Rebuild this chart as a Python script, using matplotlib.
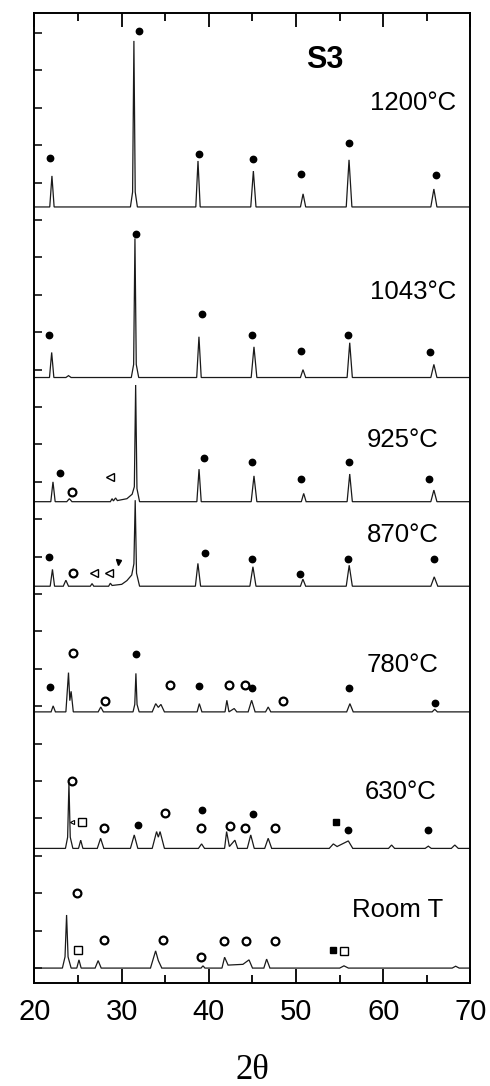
import matplotlib
matplotlib.use("Agg")
import matplotlib.pyplot as plt
from matplotlib.ticker import MultipleLocator


# === CONFIGURATION ===
FIGURE_SIZE = (4.9, 10.86)
DPI = 100
TRACE_COLOR = '#1a1a1a'
TRACE_WIDTH = 0.9
LABEL_FONT = 'Liberation Sans'
LABEL_FONTSIZE = 18.5
TICK_FONTSIZE = 21

# === DATA (2theta vertices and relative intensity) ===
# each pattern is drawn at its own baseline offset
temps = ['1200°C', '1043°C', '925°C', '870°C', '780°C', '630°C', 'Room T']
offsets = [20.35, 15.79, 12.47, 10.21, 6.85, 3.2, 0.0]

t1200 = [20, 21.75, 22.0, 22.25, 31.0, 31.25, 31.4, 31.55, 31.8, 38.5, 38.75,
         39.0, 44.8, 45.1, 45.4, 50.5, 50.8, 51.1, 55.75, 56.07, 56.4, 65.45,
         65.8, 66.15, 70]
i1200 = [0, 0, 0.83, 0, 0, 0.4, 4.44, 0.4, 0, 0, 1.23, 0, 0, 0.96, 0, 0, 0.35,
         0, 0, 1.26, 0, 0, 0.48, 0, 0]

t1043 = [20, 21.72, 21.97, 22.22, 23.6, 23.9, 24.2, 31.1, 31.37, 31.52, 31.67,
         31.95, 38.6, 38.86, 39.12, 44.85, 45.17, 45.5, 50.5, 50.79, 51.1,
         55.85, 56.15, 56.45, 65.45, 65.8, 66.15, 70]
i1043 = [0, 0, 0.67, 0, 0, 0.05, 0, 0, 0.35, 3.72, 0.35, 0, 0, 1.09, 0, 0,
         0.82, 0, 0, 0.21, 0, 0, 0.93, 0, 0, 0.35, 0, 0]

t925 = [20, 21.87, 22.12, 22.37, 23.7, 24.0, 24.3, 28.7, 28.9, 29.05, 29.3,
        29.5, 30.6, 31.2, 31.45, 31.6, 31.75, 32.05, 38.62, 38.87, 39.12,
        44.85, 45.17, 45.5, 50.6, 50.87, 51.15, 55.85, 56.15, 56.45, 65.45,
        65.8, 66.15, 70]
i925 = [0, 0, 0.53, 0, 0, 0.08, 0, 0, 0.08, 0.02, 0.1, 0.03, 0.08, 0.2, 0.4,
        3.12, 0.35, 0, 0, 0.87, 0, 0, 0.69, 0, 0, 0.22, 0, 0, 0.74, 0, 0,
        0.31, 0, 0]

t870 = [20, 21.8, 22.06, 22.3, 23.3, 23.6, 23.9, 26.4, 26.6, 26.8, 28.5, 28.7,
        28.9, 30.0, 30.6, 31.15, 31.4, 31.55, 31.7, 32.05, 38.45, 38.74, 39.05,
        44.7, 45.05, 45.4, 50.5, 50.78, 51.1, 55.75, 56.09, 56.45, 65.45,
        65.84, 66.25, 70]
i870 = [0, 0, 0.45, 0, 0, 0.16, 0, 0, 0.07, 0, 0, 0.08, 0.02, 0.05, 0.15, 0.3,
        0.6, 2.3, 0.35, 0, 0, 0.61, 0, 0, 0.52, 0, 0, 0.19, 0, 0, 0.56, 0, 0,
        0.25, 0, 0]

t780 = [20, 21.9, 22.14, 22.4, 23.6, 23.9, 24.05, 24.2, 24.45, 27.3, 27.6,
        27.9, 31.3, 31.5, 31.63, 31.76, 32.0, 33.5, 33.9, 34.2, 34.5, 34.9,
        38.65, 38.9, 39.2, 41.85, 42.06, 42.3, 42.9, 43.2, 44.5, 44.9, 45.3,
        46.5, 46.8, 47.1, 55.8, 56.17, 56.55, 65.6, 65.9, 66.2, 70]
i780 = [0, 0, 0.16, 0, 0, 1.05, 0.3, 0.55, 0, 0, 0.13, 0, 0, 0.2, 1.03, 0.2,
        0, 0, 0.22, 0.12, 0.2, 0, 0, 0.22, 0, 0, 0.31, 0, 0.09, 0, 0, 0.31, 0,
        0, 0.13, 0, 0, 0.22, 0, 0, 0.07, 0, 0]

t630 = [20, 23.55, 23.8, 23.95, 24.1, 24.4, 25.05, 25.3, 25.55, 27.2, 27.58,
        27.95, 31.0, 31.44, 31.85, 33.5, 34.0, 34.2, 34.4, 34.9, 38.8, 39.16,
        39.5, 41.8, 42.03, 42.35, 42.98, 43.3, 44.4, 44.8, 45.2, 46.4, 46.8,
        47.2, 53.8, 54.27, 54.7, 55.99, 56.5, 60.6, 60.95, 61.3, 64.8, 65.16,
        65.5, 67.8, 68.2, 68.6, 70]
i630 = [0, 0, 0.3, 1.74, 0.3, 0, 0, 0.22, 0, 0, 0.27, 0, 0, 0.36, 0, 0, 0.45,
        0.3, 0.45, 0, 0, 0.12, 0, 0, 0.45, 0.05, 0.22, 0, 0, 0.36, 0, 0, 0.27,
        0, 0, 0.12, 0.05, 0.2, 0, 0, 0.09, 0, 0, 0.06, 0, 0, 0.09, 0, 0]

tRT = [20, 23.2, 23.5, 23.68, 23.85, 24.2, 24.85, 25.1, 25.35, 26.95, 27.3,
       27.65, 33.3, 33.89, 34.2, 34.6, 39.1, 39.32, 39.55, 41.5, 41.8, 42.2,
       43.9, 44.6, 45.0, 46.3, 46.62, 47.0, 55.0, 55.49, 56.0, 67.9, 68.3,
       68.7, 70]
iRT = [0, 0, 0.3, 1.42, 0.3, 0, 0, 0.22, 0, 0, 0.2, 0, 0, 0.46, 0.2, 0, 0,
       0.06, 0, 0, 0.29, 0.08, 0.1, 0.22, 0, 0, 0.24, 0, 0, 0.06, 0, 0, 0.05,
       0, 0]

patterns = [(t1200, i1200), (t1043, i1043), (t925, i925), (t870, i870),
            (t780, i780), (t630, i630), (tRT, iRT)]

# label positions (2theta, stacked y)
label_x = [58.45, 58.45, 58.1, 58.1, 58.1, 57.9, 56.4]
label_y = [23.13, 18.07, 14.12, 11.58, 8.1, 4.71, 1.55]

# phase markers (2theta, stacked y)
dot_x = [21.75, 32.0, 38.85, 45.07, 50.53, 56.07, 66.0,
         31.66, 21.7, 39.24, 45.0, 50.53, 56.0, 65.32,
         22.89, 39.44, 44.98, 50.53, 56.07, 65.24,
         21.69, 39.5, 44.93, 50.47, 56.0, 65.87,
         21.77, 31.63, 38.89, 44.93, 56.02, 65.92,
         31.82, 39.24, 45.09, 55.99, 65.16]
dot_y = [21.67, 25.05, 21.76, 21.64, 21.22, 22.07, 21.2,
         19.62, 16.94, 17.48, 16.93, 16.5, 16.93, 16.48,
         13.23, 13.64, 13.52, 13.08, 13.52, 13.07,
         10.98, 11.09, 10.95, 10.53, 10.95, 10.94,
         7.52, 8.4, 7.54, 7.5, 7.5, 7.08,
         3.82, 4.24, 4.12, 3.69, 3.69]

ring_x = [24.3, 24.36,
          24.37, 28.07, 35.56, 42.33, 44.16, 48.52,
          24.33, 28.0, 34.96, 39.08, 42.41, 44.13, 47.57,
          24.9, 27.97, 34.74, 39.05, 41.73, 44.21, 47.58]
ring_y = [12.74, 10.57,
          8.43, 7.14, 7.57, 7.57, 7.57, 7.14,
          5.01, 3.74, 4.15, 3.74, 3.8, 3.74, 3.74,
          2.02, 0.75, 0.75, 0.3, 0.73, 0.73, 0.73]

osq_x = [25.4, 25.02, 55.49]
osq_y = [3.9, 0.48, 0.46]
fsq_x = [54.53, 54.27]
fsq_y = [3.9, 0.48]

tri_x = [28.62, 26.88, 28.6]
tri_y = [13.12, 10.57, 10.57]
small_tri_x = [24.26]
small_tri_y = [3.91]
dtri_x = [29.52]
dtri_y = [10.86]


# === FIGURE ===
fig = plt.figure(figsize=FIGURE_SIZE, dpi=DPI)
ax = fig.add_axes([0.0704, 0.0948, 0.8898, 0.8932])

for (tt, ii), off in zip(patterns, offsets):
    ax.plot(tt, [v + off for v in ii], color=TRACE_COLOR,
            linewidth=TRACE_WIDTH, solid_joinstyle='miter')

ax.plot(dot_x, dot_y, 'o', color='black', markersize=4.6, linestyle='none')
ax.plot(ring_x, ring_y, 'o', markerfacecolor='white', markeredgecolor='black',
        markersize=5.6, markeredgewidth=1.6, linestyle='none')
ax.plot(osq_x, osq_y, 's', markerfacecolor='white', markeredgecolor='black',
        markersize=5.2, markeredgewidth=1.0, linestyle='none')
ax.plot(fsq_x, fsq_y, 's', color='black', markersize=5.0, linestyle='none')
ax.plot(tri_x, tri_y, '<', markerfacecolor='white', markeredgecolor='black',
        markersize=6.0, markeredgewidth=1.0, linestyle='none')
ax.plot(small_tri_x, small_tri_y, '<', markerfacecolor='white',
        markeredgecolor='black', markersize=3.0, markeredgewidth=0.8,
        linestyle='none')
ax.plot(dtri_x, dtri_y, 'v', color='black', markersize=3.6, linestyle='none')

# temperature labels
for name, lx, ly in zip(temps, label_x, label_y):
    ax.text(lx, ly, name, ha='left', va='center', family=LABEL_FONT,
            fontsize=LABEL_FONTSIZE)
ax.text(53.3, 24.28, 'S3', ha='center', va='center', family=LABEL_FONT,
        fontsize=22, fontweight='bold')

# === AXES ===
ax.set_xlim(20, 70)
ax.set_ylim(-0.4, 25.535)
ax.xaxis.set_major_locator(MultipleLocator(10))
ax.xaxis.set_minor_locator(MultipleLocator(5))
ax.yaxis.set_major_locator(MultipleLocator(1))
ax.tick_params(axis='x', which='major', direction='in', top=True,
               length=10, width=1.3, pad=11, labelsize=TICK_FONTSIZE)
ax.tick_params(axis='x', which='minor', direction='in', top=True,
               length=5.5, width=1.3)
ax.tick_params(axis='y', which='major', direction='in', left=True,
               right=False, length=5.8, width=1.1, labelleft=False)
for lab in ax.get_xticklabels():
    lab.set_family(LABEL_FONT)
for sp in ax.spines.values():
    sp.set_linewidth(1.4)

ax.set_xlabel('2θ', family='Liberation Serif', fontsize=25, labelpad=20)

fig.savefig('out.png', dpi=DPI)
